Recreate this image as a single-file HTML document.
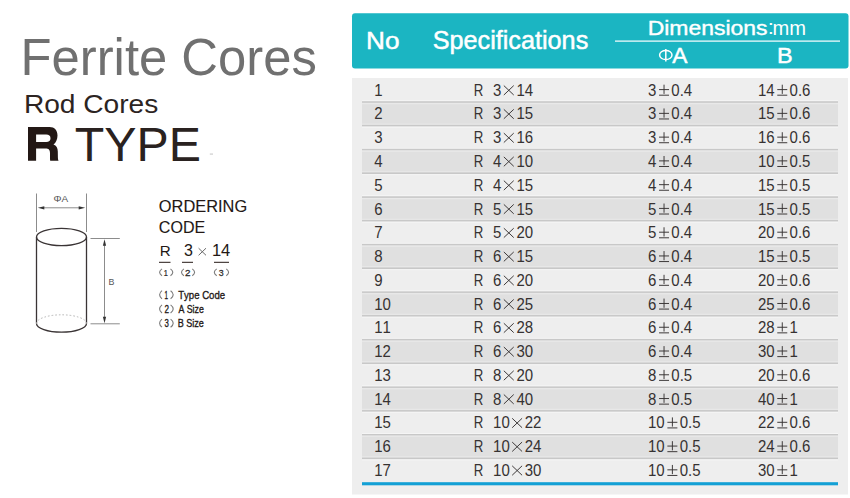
<!DOCTYPE html>
<html><head><meta charset="utf-8"><title>Ferrite Cores - R Type</title>
<style>
html,body{margin:0;padding:0;background:#fff;}
body{width:850px;height:498px;overflow:hidden;}
svg{display:block;}
text{font-family:"Liberation Sans",sans-serif;font-kerning:none;}
</style></head><body>
<svg width="850" height="498" viewBox="0 0 850 498">
<rect width="850" height="498" fill="#fff"/>
<text transform="translate(24.70,75.10) scale(0.9652,1)" x="-4.32" y="0" font-size="52.62" fill="#707070">Ferrite Cores</text>
<text transform="translate(26.20,113.10) scale(1.1002,1)" x="-2.10" y="0" font-size="25.58" fill="#2c2422">Rod Cores</text>
<path fill-rule="evenodd" fill="#231815" d="M28,127.1 H49.5 C54.6,127.1 57.5,130.2 57.5,135.6 C57.5,139.6 55.9,142.8 53.5,144.6 C56.4,145.8 57.7,147.7 57.8,151.5 L57.9,157.6 C57.9,159.2 58.2,160 58.5,160.7 H50.2 C50,159.8 50,158.6 50,157.4 V153.2 C50,149.9 48.7,148.6 45.4,148.6 H36.1 V160.7 H28 Z M36.1,134.4 V142.0 H46.2 C49,142.0 50.5,140.8 50.5,138.2 C50.5,135.6 49,134.4 46.2,134.4 Z"/>
<text transform="translate(75.80,161.10) scale(1.0132,1)" x="-1.07" y="0" font-size="47.68" fill="#2a2220">TYPE</text>
<rect x="209.8" y="153.4" width="3.2" height="1.4" fill="#d5d5d5"/>
<g fill="none" stroke-linecap="butt">
<line x1="36.5" y1="193.5" x2="36.5" y2="232" stroke="#8c8c8c" stroke-width="1"/>
<line x1="86.5" y1="193.5" x2="86.5" y2="232" stroke="#8c8c8c" stroke-width="1"/>
<line x1="42" y1="207.8" x2="81" y2="207.8" stroke="#8c8c8c" stroke-width="1"/>
<line x1="90.5" y1="238.5" x2="119.8" y2="238.5" stroke="#8c8c8c" stroke-width="1"/>
<line x1="90.5" y1="323.8" x2="119.8" y2="323.8" stroke="#8c8c8c" stroke-width="1"/>
<line x1="104.5" y1="243" x2="104.5" y2="319" stroke="#8c8c8c" stroke-width="1"/>
<ellipse cx="61.5" cy="237" rx="25" ry="8.6" stroke="#3a3435" stroke-width="1.3"/>
<line x1="36.5" y1="237" x2="36.5" y2="323.5" stroke="#3a3435" stroke-width="1.3"/>
<line x1="86.5" y1="237" x2="86.5" y2="323.5" stroke="#3a3435" stroke-width="1.3"/>
<path d="M36.5 323.5 A25 8.7 0 0 0 86.5 323.5" stroke="#3a3435" stroke-width="1.3"/>
<path d="M36.5 323.5 A25 8.7 0 0 1 86.5 323.5" stroke="#b5b5b5" stroke-width="1" stroke-dasharray="1.6 2"/>
</g>
<g fill="#333">
<path d="M37.8 207.8 L44.3 206.2 L44.3 209.4 Z"/>
<path d="M85.2 207.8 L78.7 206.2 L78.7 209.4 Z"/>
<path d="M104.5 239.3 L102.9 245.8 L106.1 245.8 Z"/>
<path d="M104.5 323.2 L102.9 316.7 L106.1 316.7 Z"/>
</g>
<text transform="translate(54.00,202.30) scale(1.0953,1)" x="-0.52" y="0" font-size="9.16" fill="#555">ΦA</text>
<text transform="translate(109.30,284.80) scale(0.9205,1)" x="-0.79" y="0" font-size="9.59" fill="#555">B</text>
<text transform="translate(159.60,211.80) scale(1.0260,1)" x="-0.76" y="0" font-size="15.99" fill="#231815" stroke="#231815" stroke-width="0.12">ORDERING</text>
<text transform="translate(159.60,232.70) scale(1.0046,1)" x="-0.81" y="0" font-size="15.99" fill="#231815" stroke="#231815" stroke-width="0.12">CODE</text>
<text transform="translate(161.00,255.90) scale(0.9746,1)" x="-1.28" y="0" font-size="15.55" fill="#231815">R</text>
<text transform="translate(184.60,256.00) scale(0.9759,1)" x="-0.63" y="0" font-size="16.42" fill="#231815">3</text>
<text transform="translate(213.20,256.00) scale(1.0038,1)" x="-1.25" y="0" font-size="16.42" fill="#231815">14</text>
<g stroke="#6a6a6a" stroke-width="1"><line x1="198.6" y1="248.2" x2="206.0" y2="255.3"/><line x1="206.0" y1="248.2" x2="198.6" y2="255.3"/></g>
<g stroke="#231815" stroke-width="1"><line x1="159" y1="262.3" x2="170.5" y2="262.3"/><line x1="182" y1="262.3" x2="193" y2="262.3"/><line x1="214" y1="262.3" x2="229" y2="262.3"/></g>
<path d="M162.00 268.90 Q157.20 272.35 162.00 275.80" fill="none" stroke="#7a7a7a" stroke-width="1.1"/>
<path d="M170.50 268.90 Q175.10 272.35 170.50 275.80" fill="none" stroke="#7a7a7a" stroke-width="1.1"/>
<text transform="translate(164.40,275.70) scale(0.7737,1)" x="-0.73" y="0" font-size="9.59" fill="#2a2a2a" stroke="#2a2a2a" stroke-width="0.25">1</text>
<path d="M183.90 268.90 Q179.10 272.35 183.90 275.80" fill="none" stroke="#7a7a7a" stroke-width="1.1"/>
<path d="M192.30 268.90 Q196.90 272.35 192.30 275.80" fill="none" stroke="#7a7a7a" stroke-width="1.1"/>
<text transform="translate(185.60,275.70) scale(1.0297,1)" x="-0.48" y="0" font-size="9.59" fill="#2a2a2a" stroke="#2a2a2a" stroke-width="0.25">2</text>
<path d="M216.70 268.90 Q211.90 272.35 216.70 275.80" fill="none" stroke="#7a7a7a" stroke-width="1.1"/>
<path d="M226.30 268.90 Q230.90 272.35 226.30 275.80" fill="none" stroke="#7a7a7a" stroke-width="1.1"/>
<text transform="translate(219.00,275.70) scale(0.9234,1)" x="-0.37" y="0" font-size="9.59" fill="#2a2a2a" stroke="#2a2a2a" stroke-width="0.25">3</text>
<path d="M162.00 290.70 Q157.20 294.75 162.00 298.80" fill="none" stroke="#7a7a7a" stroke-width="1.1"/>
<path d="M170.60 290.70 Q175.80 294.75 170.60 298.80" fill="none" stroke="#7a7a7a" stroke-width="1.1"/>
<text transform="translate(164.90,298.60) scale(0.5595,1)" x="-0.85" y="0" font-size="11.19" fill="#231815" stroke="#231815" stroke-width="0.35">1</text>
<text transform="translate(178.40,298.60) scale(0.8253,1)" x="-0.26" y="0" font-size="11.63" fill="#231815" stroke="#231815" stroke-width="0.35">Type Code</text>
<path d="M162.00 304.90 Q157.20 308.95 162.00 313.00" fill="none" stroke="#7a7a7a" stroke-width="1.1"/>
<path d="M170.60 304.90 Q175.80 308.95 170.60 313.00" fill="none" stroke="#7a7a7a" stroke-width="1.1"/>
<text transform="translate(164.90,312.80) scale(0.7257,1)" x="-0.56" y="0" font-size="11.19" fill="#231815" stroke="#231815" stroke-width="0.35">2</text>
<text transform="translate(178.40,312.80) scale(0.7591,1)" x="-0.02" y="0" font-size="11.63" fill="#231815" stroke="#231815" stroke-width="0.35">A Size</text>
<path d="M162.00 319.10 Q157.20 323.15 162.00 327.20" fill="none" stroke="#7a7a7a" stroke-width="1.1"/>
<path d="M170.60 319.10 Q175.80 323.15 170.60 327.20" fill="none" stroke="#7a7a7a" stroke-width="1.1"/>
<text transform="translate(164.90,327.00) scale(0.6973,1)" x="-0.43" y="0" font-size="11.19" fill="#231815" stroke="#231815" stroke-width="0.35">3</text>
<text transform="translate(178.40,327.00) scale(0.7810,1)" x="-0.95" y="0" font-size="11.63" fill="#231815" stroke="#231815" stroke-width="0.35">B Size</text>
<rect x="352" y="13.3" width="496.5" height="55.2" rx="3" fill="#1bb5c2"/>
<rect x="352" y="78" width="496" height="416.5" fill="#eeeeee"/>
<rect x="362" y="101.76" width="476" height="23.76" fill="#e0e0e0"/>
<rect x="362" y="100.26" width="476" height="1.0" fill="#f6f6f6"/>
<rect x="362" y="101.26" width="476" height="1.5" fill="#c8c8c8"/>
<rect x="362" y="102.96" width="476" height="1.2" fill="#e9e9e9"/>
<rect x="362" y="123.63" width="476" height="1.1" fill="#e8e8e8"/>
<rect x="362" y="124.93" width="476" height="1.6" fill="#c8c8c8"/>
<rect x="362" y="126.63" width="476" height="1.0" fill="#f5f5f5"/>
<rect x="362" y="149.29" width="476" height="23.76" fill="#e0e0e0"/>
<rect x="362" y="147.79" width="476" height="1.0" fill="#f6f6f6"/>
<rect x="362" y="148.79" width="476" height="1.5" fill="#c8c8c8"/>
<rect x="362" y="150.49" width="476" height="1.2" fill="#e9e9e9"/>
<rect x="362" y="171.16" width="476" height="1.1" fill="#e8e8e8"/>
<rect x="362" y="172.46" width="476" height="1.6" fill="#c8c8c8"/>
<rect x="362" y="174.16" width="476" height="1.0" fill="#f5f5f5"/>
<rect x="362" y="196.82" width="476" height="23.76" fill="#e0e0e0"/>
<rect x="362" y="195.32" width="476" height="1.0" fill="#f6f6f6"/>
<rect x="362" y="196.32" width="476" height="1.5" fill="#c8c8c8"/>
<rect x="362" y="198.02" width="476" height="1.2" fill="#e9e9e9"/>
<rect x="362" y="218.69" width="476" height="1.1" fill="#e8e8e8"/>
<rect x="362" y="219.99" width="476" height="1.6" fill="#c8c8c8"/>
<rect x="362" y="221.69" width="476" height="1.0" fill="#f5f5f5"/>
<rect x="362" y="244.35" width="476" height="23.76" fill="#e0e0e0"/>
<rect x="362" y="242.85" width="476" height="1.0" fill="#f6f6f6"/>
<rect x="362" y="243.85" width="476" height="1.5" fill="#c8c8c8"/>
<rect x="362" y="245.55" width="476" height="1.2" fill="#e9e9e9"/>
<rect x="362" y="266.22" width="476" height="1.1" fill="#e8e8e8"/>
<rect x="362" y="267.52" width="476" height="1.6" fill="#c8c8c8"/>
<rect x="362" y="269.22" width="476" height="1.0" fill="#f5f5f5"/>
<rect x="362" y="291.88" width="476" height="23.76" fill="#e0e0e0"/>
<rect x="362" y="290.38" width="476" height="1.0" fill="#f6f6f6"/>
<rect x="362" y="291.38" width="476" height="1.5" fill="#c8c8c8"/>
<rect x="362" y="293.08" width="476" height="1.2" fill="#e9e9e9"/>
<rect x="362" y="313.75" width="476" height="1.1" fill="#e8e8e8"/>
<rect x="362" y="315.05" width="476" height="1.6" fill="#c8c8c8"/>
<rect x="362" y="316.75" width="476" height="1.0" fill="#f5f5f5"/>
<rect x="362" y="339.41" width="476" height="23.76" fill="#e0e0e0"/>
<rect x="362" y="337.91" width="476" height="1.0" fill="#f6f6f6"/>
<rect x="362" y="338.91" width="476" height="1.5" fill="#c8c8c8"/>
<rect x="362" y="340.61" width="476" height="1.2" fill="#e9e9e9"/>
<rect x="362" y="361.28" width="476" height="1.1" fill="#e8e8e8"/>
<rect x="362" y="362.58" width="476" height="1.6" fill="#c8c8c8"/>
<rect x="362" y="364.28" width="476" height="1.0" fill="#f5f5f5"/>
<rect x="362" y="386.94" width="476" height="23.76" fill="#e0e0e0"/>
<rect x="362" y="385.44" width="476" height="1.0" fill="#f6f6f6"/>
<rect x="362" y="386.44" width="476" height="1.5" fill="#c8c8c8"/>
<rect x="362" y="388.14" width="476" height="1.2" fill="#e9e9e9"/>
<rect x="362" y="408.81" width="476" height="1.1" fill="#e8e8e8"/>
<rect x="362" y="410.11" width="476" height="1.6" fill="#c8c8c8"/>
<rect x="362" y="411.81" width="476" height="1.0" fill="#f5f5f5"/>
<rect x="362" y="434.47" width="476" height="23.76" fill="#e0e0e0"/>
<rect x="362" y="432.97" width="476" height="1.0" fill="#f6f6f6"/>
<rect x="362" y="433.97" width="476" height="1.5" fill="#c8c8c8"/>
<rect x="362" y="435.67" width="476" height="1.2" fill="#e9e9e9"/>
<rect x="362" y="456.34" width="476" height="1.1" fill="#e8e8e8"/>
<rect x="362" y="457.64" width="476" height="1.6" fill="#c8c8c8"/>
<rect x="362" y="459.34" width="476" height="1.0" fill="#f5f5f5"/>
<rect x="362" y="482.2" width="476" height="3.1" fill="#13a0d5"/>
<text transform="translate(374.20,95.70) scale(0.9615,1)" x="0" y="0" font-size="15.6" fill="#363232">1</text>
<text transform="translate(473.70,95.70) scale(0.85,1)" x="0" y="0" font-size="15.6" fill="#363232">R</text>
<g stroke="#363232" stroke-width="0.95"><line x1="503.84" y1="85.60" x2="513.74" y2="95.00"/><line x1="513.74" y1="85.60" x2="503.84" y2="95.00"/></g>
<text transform="translate(493.10,95.70) scale(0.9615,1)" x="0" y="0" font-size="15.6" fill="#363232">3</text>
<text transform="translate(516.44,95.70) scale(0.9615,1)" x="0" y="0" font-size="15.6" fill="#363232">14</text>
<g stroke="#363232" stroke-width="0.95"><line x1="659.04" y1="89.60" x2="669.04" y2="89.60"/><line x1="664.04" y1="84.70" x2="664.04" y2="93.90"/><line x1="659.04" y1="95.20" x2="669.04" y2="95.20"/></g>
<text transform="translate(648.00,95.70) scale(0.9615,1)" x="0" y="0" font-size="15.6" fill="#363232">3</text>
<text transform="translate(671.34,95.70) scale(0.9615,1)" x="0" y="0" font-size="15.6" fill="#363232">0.4</text>
<g stroke="#363232" stroke-width="0.95"><line x1="777.28" y1="89.60" x2="787.28" y2="89.60"/><line x1="782.28" y1="84.70" x2="782.28" y2="93.90"/><line x1="777.28" y1="95.20" x2="787.28" y2="95.20"/></g>
<text transform="translate(757.90,95.70) scale(0.9615,1)" x="0" y="0" font-size="15.6" fill="#363232">14</text>
<text transform="translate(789.58,95.70) scale(0.9615,1)" x="0" y="0" font-size="15.6" fill="#363232">0.6</text>
<text transform="translate(374.20,119.46) scale(0.9615,1)" x="0" y="0" font-size="15.6" fill="#363232">2</text>
<text transform="translate(473.70,119.46) scale(0.85,1)" x="0" y="0" font-size="15.6" fill="#363232">R</text>
<g stroke="#363232" stroke-width="0.95"><line x1="503.84" y1="109.36" x2="513.74" y2="118.76"/><line x1="513.74" y1="109.36" x2="503.84" y2="118.76"/></g>
<text transform="translate(493.10,119.46) scale(0.9615,1)" x="0" y="0" font-size="15.6" fill="#363232">3</text>
<text transform="translate(516.44,119.46) scale(0.9615,1)" x="0" y="0" font-size="15.6" fill="#363232">15</text>
<g stroke="#363232" stroke-width="0.95"><line x1="659.04" y1="113.36" x2="669.04" y2="113.36"/><line x1="664.04" y1="108.46" x2="664.04" y2="117.66"/><line x1="659.04" y1="118.96" x2="669.04" y2="118.96"/></g>
<text transform="translate(648.00,119.46) scale(0.9615,1)" x="0" y="0" font-size="15.6" fill="#363232">3</text>
<text transform="translate(671.34,119.46) scale(0.9615,1)" x="0" y="0" font-size="15.6" fill="#363232">0.4</text>
<g stroke="#363232" stroke-width="0.95"><line x1="777.28" y1="113.36" x2="787.28" y2="113.36"/><line x1="782.28" y1="108.46" x2="782.28" y2="117.66"/><line x1="777.28" y1="118.96" x2="787.28" y2="118.96"/></g>
<text transform="translate(757.90,119.46) scale(0.9615,1)" x="0" y="0" font-size="15.6" fill="#363232">15</text>
<text transform="translate(789.58,119.46) scale(0.9615,1)" x="0" y="0" font-size="15.6" fill="#363232">0.6</text>
<text transform="translate(374.20,143.23) scale(0.9615,1)" x="0" y="0" font-size="15.6" fill="#363232">3</text>
<text transform="translate(473.70,143.23) scale(0.85,1)" x="0" y="0" font-size="15.6" fill="#363232">R</text>
<g stroke="#363232" stroke-width="0.95"><line x1="503.84" y1="133.13" x2="513.74" y2="142.53"/><line x1="513.74" y1="133.13" x2="503.84" y2="142.53"/></g>
<text transform="translate(493.10,143.23) scale(0.9615,1)" x="0" y="0" font-size="15.6" fill="#363232">3</text>
<text transform="translate(516.44,143.23) scale(0.9615,1)" x="0" y="0" font-size="15.6" fill="#363232">16</text>
<g stroke="#363232" stroke-width="0.95"><line x1="659.04" y1="137.13" x2="669.04" y2="137.13"/><line x1="664.04" y1="132.23" x2="664.04" y2="141.43"/><line x1="659.04" y1="142.73" x2="669.04" y2="142.73"/></g>
<text transform="translate(648.00,143.23) scale(0.9615,1)" x="0" y="0" font-size="15.6" fill="#363232">3</text>
<text transform="translate(671.34,143.23) scale(0.9615,1)" x="0" y="0" font-size="15.6" fill="#363232">0.4</text>
<g stroke="#363232" stroke-width="0.95"><line x1="777.28" y1="137.13" x2="787.28" y2="137.13"/><line x1="782.28" y1="132.23" x2="782.28" y2="141.43"/><line x1="777.28" y1="142.73" x2="787.28" y2="142.73"/></g>
<text transform="translate(757.90,143.23) scale(0.9615,1)" x="0" y="0" font-size="15.6" fill="#363232">16</text>
<text transform="translate(789.58,143.23) scale(0.9615,1)" x="0" y="0" font-size="15.6" fill="#363232">0.6</text>
<text transform="translate(374.20,166.99) scale(0.9615,1)" x="0" y="0" font-size="15.6" fill="#363232">4</text>
<text transform="translate(473.70,166.99) scale(0.85,1)" x="0" y="0" font-size="15.6" fill="#363232">R</text>
<g stroke="#363232" stroke-width="0.95"><line x1="503.84" y1="156.89" x2="513.74" y2="166.29"/><line x1="513.74" y1="156.89" x2="503.84" y2="166.29"/></g>
<text transform="translate(493.10,166.99) scale(0.9615,1)" x="0" y="0" font-size="15.6" fill="#363232">4</text>
<text transform="translate(516.44,166.99) scale(0.9615,1)" x="0" y="0" font-size="15.6" fill="#363232">10</text>
<g stroke="#363232" stroke-width="0.95"><line x1="659.04" y1="160.89" x2="669.04" y2="160.89"/><line x1="664.04" y1="155.99" x2="664.04" y2="165.19"/><line x1="659.04" y1="166.49" x2="669.04" y2="166.49"/></g>
<text transform="translate(648.00,166.99) scale(0.9615,1)" x="0" y="0" font-size="15.6" fill="#363232">4</text>
<text transform="translate(671.34,166.99) scale(0.9615,1)" x="0" y="0" font-size="15.6" fill="#363232">0.4</text>
<g stroke="#363232" stroke-width="0.95"><line x1="777.28" y1="160.89" x2="787.28" y2="160.89"/><line x1="782.28" y1="155.99" x2="782.28" y2="165.19"/><line x1="777.28" y1="166.49" x2="787.28" y2="166.49"/></g>
<text transform="translate(757.90,166.99) scale(0.9615,1)" x="0" y="0" font-size="15.6" fill="#363232">10</text>
<text transform="translate(789.58,166.99) scale(0.9615,1)" x="0" y="0" font-size="15.6" fill="#363232">0.5</text>
<text transform="translate(374.20,190.76) scale(0.9615,1)" x="0" y="0" font-size="15.6" fill="#363232">5</text>
<text transform="translate(473.70,190.76) scale(0.85,1)" x="0" y="0" font-size="15.6" fill="#363232">R</text>
<g stroke="#363232" stroke-width="0.95"><line x1="503.84" y1="180.66" x2="513.74" y2="190.06"/><line x1="513.74" y1="180.66" x2="503.84" y2="190.06"/></g>
<text transform="translate(493.10,190.76) scale(0.9615,1)" x="0" y="0" font-size="15.6" fill="#363232">4</text>
<text transform="translate(516.44,190.76) scale(0.9615,1)" x="0" y="0" font-size="15.6" fill="#363232">15</text>
<g stroke="#363232" stroke-width="0.95"><line x1="659.04" y1="184.66" x2="669.04" y2="184.66"/><line x1="664.04" y1="179.76" x2="664.04" y2="188.96"/><line x1="659.04" y1="190.26" x2="669.04" y2="190.26"/></g>
<text transform="translate(648.00,190.76) scale(0.9615,1)" x="0" y="0" font-size="15.6" fill="#363232">4</text>
<text transform="translate(671.34,190.76) scale(0.9615,1)" x="0" y="0" font-size="15.6" fill="#363232">0.4</text>
<g stroke="#363232" stroke-width="0.95"><line x1="777.28" y1="184.66" x2="787.28" y2="184.66"/><line x1="782.28" y1="179.76" x2="782.28" y2="188.96"/><line x1="777.28" y1="190.26" x2="787.28" y2="190.26"/></g>
<text transform="translate(757.90,190.76) scale(0.9615,1)" x="0" y="0" font-size="15.6" fill="#363232">15</text>
<text transform="translate(789.58,190.76) scale(0.9615,1)" x="0" y="0" font-size="15.6" fill="#363232">0.5</text>
<text transform="translate(374.20,214.52) scale(0.9615,1)" x="0" y="0" font-size="15.6" fill="#363232">6</text>
<text transform="translate(473.70,214.52) scale(0.85,1)" x="0" y="0" font-size="15.6" fill="#363232">R</text>
<g stroke="#363232" stroke-width="0.95"><line x1="503.84" y1="204.42" x2="513.74" y2="213.82"/><line x1="513.74" y1="204.42" x2="503.84" y2="213.82"/></g>
<text transform="translate(493.10,214.52) scale(0.9615,1)" x="0" y="0" font-size="15.6" fill="#363232">5</text>
<text transform="translate(516.44,214.52) scale(0.9615,1)" x="0" y="0" font-size="15.6" fill="#363232">15</text>
<g stroke="#363232" stroke-width="0.95"><line x1="659.04" y1="208.42" x2="669.04" y2="208.42"/><line x1="664.04" y1="203.52" x2="664.04" y2="212.72"/><line x1="659.04" y1="214.02" x2="669.04" y2="214.02"/></g>
<text transform="translate(648.00,214.52) scale(0.9615,1)" x="0" y="0" font-size="15.6" fill="#363232">5</text>
<text transform="translate(671.34,214.52) scale(0.9615,1)" x="0" y="0" font-size="15.6" fill="#363232">0.4</text>
<g stroke="#363232" stroke-width="0.95"><line x1="777.28" y1="208.42" x2="787.28" y2="208.42"/><line x1="782.28" y1="203.52" x2="782.28" y2="212.72"/><line x1="777.28" y1="214.02" x2="787.28" y2="214.02"/></g>
<text transform="translate(757.90,214.52) scale(0.9615,1)" x="0" y="0" font-size="15.6" fill="#363232">15</text>
<text transform="translate(789.58,214.52) scale(0.9615,1)" x="0" y="0" font-size="15.6" fill="#363232">0.5</text>
<text transform="translate(374.20,238.29) scale(0.9615,1)" x="0" y="0" font-size="15.6" fill="#363232">7</text>
<text transform="translate(473.70,238.29) scale(0.85,1)" x="0" y="0" font-size="15.6" fill="#363232">R</text>
<g stroke="#363232" stroke-width="0.95"><line x1="503.84" y1="228.19" x2="513.74" y2="237.59"/><line x1="513.74" y1="228.19" x2="503.84" y2="237.59"/></g>
<text transform="translate(493.10,238.29) scale(0.9615,1)" x="0" y="0" font-size="15.6" fill="#363232">5</text>
<text transform="translate(516.44,238.29) scale(0.9615,1)" x="0" y="0" font-size="15.6" fill="#363232">20</text>
<g stroke="#363232" stroke-width="0.95"><line x1="659.04" y1="232.19" x2="669.04" y2="232.19"/><line x1="664.04" y1="227.29" x2="664.04" y2="236.49"/><line x1="659.04" y1="237.79" x2="669.04" y2="237.79"/></g>
<text transform="translate(648.00,238.29) scale(0.9615,1)" x="0" y="0" font-size="15.6" fill="#363232">5</text>
<text transform="translate(671.34,238.29) scale(0.9615,1)" x="0" y="0" font-size="15.6" fill="#363232">0.4</text>
<g stroke="#363232" stroke-width="0.95"><line x1="777.28" y1="232.19" x2="787.28" y2="232.19"/><line x1="782.28" y1="227.29" x2="782.28" y2="236.49"/><line x1="777.28" y1="237.79" x2="787.28" y2="237.79"/></g>
<text transform="translate(757.90,238.29) scale(0.9615,1)" x="0" y="0" font-size="15.6" fill="#363232">20</text>
<text transform="translate(789.58,238.29) scale(0.9615,1)" x="0" y="0" font-size="15.6" fill="#363232">0.6</text>
<text transform="translate(374.20,262.05) scale(0.9615,1)" x="0" y="0" font-size="15.6" fill="#363232">8</text>
<text transform="translate(473.70,262.05) scale(0.85,1)" x="0" y="0" font-size="15.6" fill="#363232">R</text>
<g stroke="#363232" stroke-width="0.95"><line x1="503.84" y1="251.95" x2="513.74" y2="261.35"/><line x1="513.74" y1="251.95" x2="503.84" y2="261.35"/></g>
<text transform="translate(493.10,262.05) scale(0.9615,1)" x="0" y="0" font-size="15.6" fill="#363232">6</text>
<text transform="translate(516.44,262.05) scale(0.9615,1)" x="0" y="0" font-size="15.6" fill="#363232">15</text>
<g stroke="#363232" stroke-width="0.95"><line x1="659.04" y1="255.95" x2="669.04" y2="255.95"/><line x1="664.04" y1="251.05" x2="664.04" y2="260.25"/><line x1="659.04" y1="261.55" x2="669.04" y2="261.55"/></g>
<text transform="translate(648.00,262.05) scale(0.9615,1)" x="0" y="0" font-size="15.6" fill="#363232">6</text>
<text transform="translate(671.34,262.05) scale(0.9615,1)" x="0" y="0" font-size="15.6" fill="#363232">0.4</text>
<g stroke="#363232" stroke-width="0.95"><line x1="777.28" y1="255.95" x2="787.28" y2="255.95"/><line x1="782.28" y1="251.05" x2="782.28" y2="260.25"/><line x1="777.28" y1="261.55" x2="787.28" y2="261.55"/></g>
<text transform="translate(757.90,262.05) scale(0.9615,1)" x="0" y="0" font-size="15.6" fill="#363232">15</text>
<text transform="translate(789.58,262.05) scale(0.9615,1)" x="0" y="0" font-size="15.6" fill="#363232">0.5</text>
<text transform="translate(374.20,285.82) scale(0.9615,1)" x="0" y="0" font-size="15.6" fill="#363232">9</text>
<text transform="translate(473.70,285.82) scale(0.85,1)" x="0" y="0" font-size="15.6" fill="#363232">R</text>
<g stroke="#363232" stroke-width="0.95"><line x1="503.84" y1="275.72" x2="513.74" y2="285.12"/><line x1="513.74" y1="275.72" x2="503.84" y2="285.12"/></g>
<text transform="translate(493.10,285.82) scale(0.9615,1)" x="0" y="0" font-size="15.6" fill="#363232">6</text>
<text transform="translate(516.44,285.82) scale(0.9615,1)" x="0" y="0" font-size="15.6" fill="#363232">20</text>
<g stroke="#363232" stroke-width="0.95"><line x1="659.04" y1="279.72" x2="669.04" y2="279.72"/><line x1="664.04" y1="274.82" x2="664.04" y2="284.02"/><line x1="659.04" y1="285.32" x2="669.04" y2="285.32"/></g>
<text transform="translate(648.00,285.82) scale(0.9615,1)" x="0" y="0" font-size="15.6" fill="#363232">6</text>
<text transform="translate(671.34,285.82) scale(0.9615,1)" x="0" y="0" font-size="15.6" fill="#363232">0.4</text>
<g stroke="#363232" stroke-width="0.95"><line x1="777.28" y1="279.72" x2="787.28" y2="279.72"/><line x1="782.28" y1="274.82" x2="782.28" y2="284.02"/><line x1="777.28" y1="285.32" x2="787.28" y2="285.32"/></g>
<text transform="translate(757.90,285.82) scale(0.9615,1)" x="0" y="0" font-size="15.6" fill="#363232">20</text>
<text transform="translate(789.58,285.82) scale(0.9615,1)" x="0" y="0" font-size="15.6" fill="#363232">0.6</text>
<text transform="translate(374.20,309.58) scale(0.9615,1)" x="0" y="0" font-size="15.6" fill="#363232">10</text>
<text transform="translate(473.70,309.58) scale(0.85,1)" x="0" y="0" font-size="15.6" fill="#363232">R</text>
<g stroke="#363232" stroke-width="0.95"><line x1="503.84" y1="299.48" x2="513.74" y2="308.88"/><line x1="513.74" y1="299.48" x2="503.84" y2="308.88"/></g>
<text transform="translate(493.10,309.58) scale(0.9615,1)" x="0" y="0" font-size="15.6" fill="#363232">6</text>
<text transform="translate(516.44,309.58) scale(0.9615,1)" x="0" y="0" font-size="15.6" fill="#363232">25</text>
<g stroke="#363232" stroke-width="0.95"><line x1="659.04" y1="303.48" x2="669.04" y2="303.48"/><line x1="664.04" y1="298.58" x2="664.04" y2="307.78"/><line x1="659.04" y1="309.08" x2="669.04" y2="309.08"/></g>
<text transform="translate(648.00,309.58) scale(0.9615,1)" x="0" y="0" font-size="15.6" fill="#363232">6</text>
<text transform="translate(671.34,309.58) scale(0.9615,1)" x="0" y="0" font-size="15.6" fill="#363232">0.4</text>
<g stroke="#363232" stroke-width="0.95"><line x1="777.28" y1="303.48" x2="787.28" y2="303.48"/><line x1="782.28" y1="298.58" x2="782.28" y2="307.78"/><line x1="777.28" y1="309.08" x2="787.28" y2="309.08"/></g>
<text transform="translate(757.90,309.58) scale(0.9615,1)" x="0" y="0" font-size="15.6" fill="#363232">25</text>
<text transform="translate(789.58,309.58) scale(0.9615,1)" x="0" y="0" font-size="15.6" fill="#363232">0.6</text>
<text transform="translate(374.20,333.35) scale(0.9615,1)" x="0" y="0" font-size="15.6" fill="#363232">11</text>
<text transform="translate(473.70,333.35) scale(0.85,1)" x="0" y="0" font-size="15.6" fill="#363232">R</text>
<g stroke="#363232" stroke-width="0.95"><line x1="503.84" y1="323.25" x2="513.74" y2="332.65"/><line x1="513.74" y1="323.25" x2="503.84" y2="332.65"/></g>
<text transform="translate(493.10,333.35) scale(0.9615,1)" x="0" y="0" font-size="15.6" fill="#363232">6</text>
<text transform="translate(516.44,333.35) scale(0.9615,1)" x="0" y="0" font-size="15.6" fill="#363232">28</text>
<g stroke="#363232" stroke-width="0.95"><line x1="659.04" y1="327.25" x2="669.04" y2="327.25"/><line x1="664.04" y1="322.35" x2="664.04" y2="331.55"/><line x1="659.04" y1="332.85" x2="669.04" y2="332.85"/></g>
<text transform="translate(648.00,333.35) scale(0.9615,1)" x="0" y="0" font-size="15.6" fill="#363232">6</text>
<text transform="translate(671.34,333.35) scale(0.9615,1)" x="0" y="0" font-size="15.6" fill="#363232">0.4</text>
<g stroke="#363232" stroke-width="0.95"><line x1="777.28" y1="327.25" x2="787.28" y2="327.25"/><line x1="782.28" y1="322.35" x2="782.28" y2="331.55"/><line x1="777.28" y1="332.85" x2="787.28" y2="332.85"/></g>
<text transform="translate(757.90,333.35) scale(0.9615,1)" x="0" y="0" font-size="15.6" fill="#363232">28</text>
<text transform="translate(789.58,333.35) scale(0.9615,1)" x="0" y="0" font-size="15.6" fill="#363232">1</text>
<text transform="translate(374.20,357.11) scale(0.9615,1)" x="0" y="0" font-size="15.6" fill="#363232">12</text>
<text transform="translate(473.70,357.11) scale(0.85,1)" x="0" y="0" font-size="15.6" fill="#363232">R</text>
<g stroke="#363232" stroke-width="0.95"><line x1="503.84" y1="347.01" x2="513.74" y2="356.41"/><line x1="513.74" y1="347.01" x2="503.84" y2="356.41"/></g>
<text transform="translate(493.10,357.11) scale(0.9615,1)" x="0" y="0" font-size="15.6" fill="#363232">6</text>
<text transform="translate(516.44,357.11) scale(0.9615,1)" x="0" y="0" font-size="15.6" fill="#363232">30</text>
<g stroke="#363232" stroke-width="0.95"><line x1="659.04" y1="351.01" x2="669.04" y2="351.01"/><line x1="664.04" y1="346.11" x2="664.04" y2="355.31"/><line x1="659.04" y1="356.61" x2="669.04" y2="356.61"/></g>
<text transform="translate(648.00,357.11) scale(0.9615,1)" x="0" y="0" font-size="15.6" fill="#363232">6</text>
<text transform="translate(671.34,357.11) scale(0.9615,1)" x="0" y="0" font-size="15.6" fill="#363232">0.4</text>
<g stroke="#363232" stroke-width="0.95"><line x1="777.28" y1="351.01" x2="787.28" y2="351.01"/><line x1="782.28" y1="346.11" x2="782.28" y2="355.31"/><line x1="777.28" y1="356.61" x2="787.28" y2="356.61"/></g>
<text transform="translate(757.90,357.11) scale(0.9615,1)" x="0" y="0" font-size="15.6" fill="#363232">30</text>
<text transform="translate(789.58,357.11) scale(0.9615,1)" x="0" y="0" font-size="15.6" fill="#363232">1</text>
<text transform="translate(374.20,380.88) scale(0.9615,1)" x="0" y="0" font-size="15.6" fill="#363232">13</text>
<text transform="translate(473.70,380.88) scale(0.85,1)" x="0" y="0" font-size="15.6" fill="#363232">R</text>
<g stroke="#363232" stroke-width="0.95"><line x1="503.84" y1="370.78" x2="513.74" y2="380.18"/><line x1="513.74" y1="370.78" x2="503.84" y2="380.18"/></g>
<text transform="translate(493.10,380.88) scale(0.9615,1)" x="0" y="0" font-size="15.6" fill="#363232">8</text>
<text transform="translate(516.44,380.88) scale(0.9615,1)" x="0" y="0" font-size="15.6" fill="#363232">20</text>
<g stroke="#363232" stroke-width="0.95"><line x1="659.04" y1="374.78" x2="669.04" y2="374.78"/><line x1="664.04" y1="369.88" x2="664.04" y2="379.08"/><line x1="659.04" y1="380.38" x2="669.04" y2="380.38"/></g>
<text transform="translate(648.00,380.88) scale(0.9615,1)" x="0" y="0" font-size="15.6" fill="#363232">8</text>
<text transform="translate(671.34,380.88) scale(0.9615,1)" x="0" y="0" font-size="15.6" fill="#363232">0.5</text>
<g stroke="#363232" stroke-width="0.95"><line x1="777.28" y1="374.78" x2="787.28" y2="374.78"/><line x1="782.28" y1="369.88" x2="782.28" y2="379.08"/><line x1="777.28" y1="380.38" x2="787.28" y2="380.38"/></g>
<text transform="translate(757.90,380.88) scale(0.9615,1)" x="0" y="0" font-size="15.6" fill="#363232">20</text>
<text transform="translate(789.58,380.88) scale(0.9615,1)" x="0" y="0" font-size="15.6" fill="#363232">0.6</text>
<text transform="translate(374.20,404.64) scale(0.9615,1)" x="0" y="0" font-size="15.6" fill="#363232">14</text>
<text transform="translate(473.70,404.64) scale(0.85,1)" x="0" y="0" font-size="15.6" fill="#363232">R</text>
<g stroke="#363232" stroke-width="0.95"><line x1="503.84" y1="394.54" x2="513.74" y2="403.94"/><line x1="513.74" y1="394.54" x2="503.84" y2="403.94"/></g>
<text transform="translate(493.10,404.64) scale(0.9615,1)" x="0" y="0" font-size="15.6" fill="#363232">8</text>
<text transform="translate(516.44,404.64) scale(0.9615,1)" x="0" y="0" font-size="15.6" fill="#363232">40</text>
<g stroke="#363232" stroke-width="0.95"><line x1="659.04" y1="398.54" x2="669.04" y2="398.54"/><line x1="664.04" y1="393.64" x2="664.04" y2="402.84"/><line x1="659.04" y1="404.14" x2="669.04" y2="404.14"/></g>
<text transform="translate(648.00,404.64) scale(0.9615,1)" x="0" y="0" font-size="15.6" fill="#363232">8</text>
<text transform="translate(671.34,404.64) scale(0.9615,1)" x="0" y="0" font-size="15.6" fill="#363232">0.5</text>
<g stroke="#363232" stroke-width="0.95"><line x1="777.28" y1="398.54" x2="787.28" y2="398.54"/><line x1="782.28" y1="393.64" x2="782.28" y2="402.84"/><line x1="777.28" y1="404.14" x2="787.28" y2="404.14"/></g>
<text transform="translate(757.90,404.64) scale(0.9615,1)" x="0" y="0" font-size="15.6" fill="#363232">40</text>
<text transform="translate(789.58,404.64) scale(0.9615,1)" x="0" y="0" font-size="15.6" fill="#363232">1</text>
<text transform="translate(374.20,428.41) scale(0.9615,1)" x="0" y="0" font-size="15.6" fill="#363232">15</text>
<text transform="translate(473.70,428.41) scale(0.85,1)" x="0" y="0" font-size="15.6" fill="#363232">R</text>
<g stroke="#363232" stroke-width="0.95"><line x1="512.18" y1="418.31" x2="522.08" y2="427.71"/><line x1="522.08" y1="418.31" x2="512.18" y2="427.71"/></g>
<text transform="translate(493.10,428.41) scale(0.9615,1)" x="0" y="0" font-size="15.6" fill="#363232">10</text>
<text transform="translate(524.78,428.41) scale(0.9615,1)" x="0" y="0" font-size="15.6" fill="#363232">22</text>
<g stroke="#363232" stroke-width="0.95"><line x1="667.38" y1="422.31" x2="677.38" y2="422.31"/><line x1="672.38" y1="417.41" x2="672.38" y2="426.61"/><line x1="667.38" y1="427.91" x2="677.38" y2="427.91"/></g>
<text transform="translate(648.00,428.41) scale(0.9615,1)" x="0" y="0" font-size="15.6" fill="#363232">10</text>
<text transform="translate(679.68,428.41) scale(0.9615,1)" x="0" y="0" font-size="15.6" fill="#363232">0.5</text>
<g stroke="#363232" stroke-width="0.95"><line x1="777.28" y1="422.31" x2="787.28" y2="422.31"/><line x1="782.28" y1="417.41" x2="782.28" y2="426.61"/><line x1="777.28" y1="427.91" x2="787.28" y2="427.91"/></g>
<text transform="translate(757.90,428.41) scale(0.9615,1)" x="0" y="0" font-size="15.6" fill="#363232">22</text>
<text transform="translate(789.58,428.41) scale(0.9615,1)" x="0" y="0" font-size="15.6" fill="#363232">0.6</text>
<text transform="translate(374.20,452.17) scale(0.9615,1)" x="0" y="0" font-size="15.6" fill="#363232">16</text>
<text transform="translate(473.70,452.17) scale(0.85,1)" x="0" y="0" font-size="15.6" fill="#363232">R</text>
<g stroke="#363232" stroke-width="0.95"><line x1="512.18" y1="442.07" x2="522.08" y2="451.47"/><line x1="522.08" y1="442.07" x2="512.18" y2="451.47"/></g>
<text transform="translate(493.10,452.17) scale(0.9615,1)" x="0" y="0" font-size="15.6" fill="#363232">10</text>
<text transform="translate(524.78,452.17) scale(0.9615,1)" x="0" y="0" font-size="15.6" fill="#363232">24</text>
<g stroke="#363232" stroke-width="0.95"><line x1="667.38" y1="446.07" x2="677.38" y2="446.07"/><line x1="672.38" y1="441.17" x2="672.38" y2="450.37"/><line x1="667.38" y1="451.67" x2="677.38" y2="451.67"/></g>
<text transform="translate(648.00,452.17) scale(0.9615,1)" x="0" y="0" font-size="15.6" fill="#363232">10</text>
<text transform="translate(679.68,452.17) scale(0.9615,1)" x="0" y="0" font-size="15.6" fill="#363232">0.5</text>
<g stroke="#363232" stroke-width="0.95"><line x1="777.28" y1="446.07" x2="787.28" y2="446.07"/><line x1="782.28" y1="441.17" x2="782.28" y2="450.37"/><line x1="777.28" y1="451.67" x2="787.28" y2="451.67"/></g>
<text transform="translate(757.90,452.17) scale(0.9615,1)" x="0" y="0" font-size="15.6" fill="#363232">24</text>
<text transform="translate(789.58,452.17) scale(0.9615,1)" x="0" y="0" font-size="15.6" fill="#363232">0.6</text>
<text transform="translate(374.20,475.94) scale(0.9615,1)" x="0" y="0" font-size="15.6" fill="#363232">17</text>
<text transform="translate(473.70,475.94) scale(0.85,1)" x="0" y="0" font-size="15.6" fill="#363232">R</text>
<g stroke="#363232" stroke-width="0.95"><line x1="512.18" y1="465.84" x2="522.08" y2="475.24"/><line x1="522.08" y1="465.84" x2="512.18" y2="475.24"/></g>
<text transform="translate(493.10,475.94) scale(0.9615,1)" x="0" y="0" font-size="15.6" fill="#363232">10</text>
<text transform="translate(524.78,475.94) scale(0.9615,1)" x="0" y="0" font-size="15.6" fill="#363232">30</text>
<g stroke="#363232" stroke-width="0.95"><line x1="667.38" y1="469.84" x2="677.38" y2="469.84"/><line x1="672.38" y1="464.94" x2="672.38" y2="474.14"/><line x1="667.38" y1="475.44" x2="677.38" y2="475.44"/></g>
<text transform="translate(648.00,475.94) scale(0.9615,1)" x="0" y="0" font-size="15.6" fill="#363232">10</text>
<text transform="translate(679.68,475.94) scale(0.9615,1)" x="0" y="0" font-size="15.6" fill="#363232">0.5</text>
<g stroke="#363232" stroke-width="0.95"><line x1="777.28" y1="469.84" x2="787.28" y2="469.84"/><line x1="782.28" y1="464.94" x2="782.28" y2="474.14"/><line x1="777.28" y1="475.44" x2="787.28" y2="475.44"/></g>
<text transform="translate(757.90,475.94) scale(0.9615,1)" x="0" y="0" font-size="15.6" fill="#363232">30</text>
<text transform="translate(789.58,475.94) scale(0.9615,1)" x="0" y="0" font-size="15.6" fill="#363232">1</text>
<text transform="translate(368.20,48.80) scale(1.0588,1)" x="-2.03" y="0" font-size="24.71" fill="#fff" stroke="#fff" stroke-width="0.5">No</text>
<text transform="translate(433.80,48.90) scale(0.9975,1)" x="-1.15" y="0" font-size="25.29" fill="#fff" stroke="#fff" stroke-width="0.5">Specifications</text>
<text transform="translate(649.50,34.90) scale(1.1130,1)" x="-1.69" y="0" font-size="20.64" fill="#fff" stroke="#fff" stroke-width="0.4">Dimensions</text>
<text transform="translate(769.70,34.20) scale(1.0611,1)" x="-1.90" y="0" font-size="20.79" fill="#fff">:</text>
<text transform="translate(773.90,34.70) scale(0.9693,1)" x="-1.38" y="0" font-size="20.79" fill="#fff">mm</text>
<rect x="615" y="40.5" width="225" height="1.2" fill="#fff"/>
<g fill="none" stroke="#fff" stroke-width="1.5"><ellipse cx="665.8" cy="55.0" rx="6.2" ry="4.6"/><line x1="665.8" y1="49.0" x2="665.8" y2="61.5"/></g>
<text transform="translate(672.30,62.60) scale(1.0731,1)" x="-0.04" y="0" font-size="21.22" fill="#fff" stroke="#fff" stroke-width="0.45">A</text>
<text transform="translate(779.00,62.60) scale(1.1067,1)" x="-1.74" y="0" font-size="21.22" fill="#fff" stroke="#fff" stroke-width="0.45">B</text>
</svg>
</body></html>
